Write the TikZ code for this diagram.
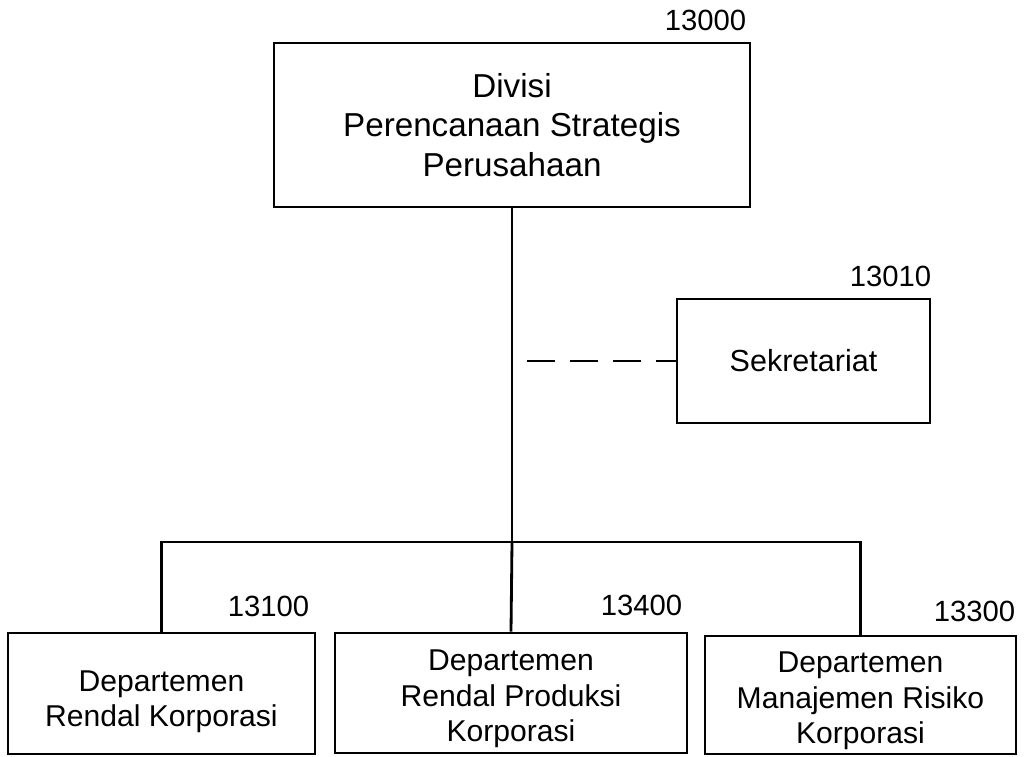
\documentclass[tikz,border=0pt]{standalone}
\usepackage{fontspec}
\setmainfont{Liberation Sans}
\usetikzlibrary{positioning}

\begin{document}
\begin{tikzpicture}[x = 0.025cm, y = -0.025cm]
	\tikzstyle{boxStyle} = [draw, line width = 2pt, shape = rectangle, align = center, inner sep = 0pt]
	\tikzstyle{deptStyle} = [boxStyle, font = \fontsize{21.4}{25}\selectfont]
	\tikzstyle{numStyle} = [font = \fontsize{20.8}{24}\selectfont, inner sep = 0pt]
	\tikzstyle{lineStyle} = [line width = 2pt]
	\useasboundingbox (0,0) rectangle (1024,756);
	\node[boxStyle, minimum width = 476*0.025cm, minimum height = 164*0.025cm, font = \fontsize{23.6}{28}\selectfont] (divisi) at (512,125) {Divisi\\Perencanaan Strategis\\Perusahaan};
	\node[boxStyle, minimum width = 253*0.025cm, minimum height = 124*0.025cm, font = \fontsize{21.7}{25}\selectfont] (sekretariat) at (803.5,361) {Sekretariat};
	\node[deptStyle, minimum width = 307*0.025cm, minimum height = 121*0.025cm] (rendalkorp) at (161.5,693.5) {\rule{0pt}{27pt}Departemen\\Rendal Korporasi};
	\node[deptStyle, minimum width = 352*0.025cm, minimum height = 120*0.025cm] (rendalprod) at (511,693) {\rule{0pt}{23pt}Departemen\\Rendal Produksi\\Korporasi};
	\node[deptStyle, minimum width = 311*0.025cm, minimum height = 118*0.025cm] (risiko) at (860.5,695) {\rule{0pt}{23pt}Departemen\\Manajemen Risiko\\Korporasi};
	% nomor unit
	\node[numStyle, anchor = base east] (n13000) at ([shift = {(-5,-11)}]divisi.north east) {13000};
	\node[numStyle, anchor = base east] (n13010) at ([shift = {(0,-11)}]sekretariat.north east) {13010};
	\node[numStyle, anchor = base east] (n13100) at ([shift = {(-7,-15)}]rendalkorp.north east) {13100};
	\node[numStyle, anchor = base east] (n13400) at ([shift = {(-6,-16)}]rendalprod.north east) {13400};
	\node[numStyle, anchor = base east] (n13300) at ([shift = {(-2,-13)}]risiko.north east) {13300};
	% garis
	\coordinate (bar) at (512,542);
	\coordinate (sekjoin) at (divisi.south |- sekretariat.west);
	\draw[lineStyle] (divisi.south) -- (bar);
	\draw[lineStyle] (rendalkorp.north) |- (bar) -| (risiko.north);
	\draw[lineStyle] (bar) -- (rendalprod.north);
	\draw[lineStyle, dash pattern = on 0.7cm off 0.375cm, dash phase = 0.7cm] (sekjoin) -- (sekretariat.west);
\end{tikzpicture}
\end{document}
